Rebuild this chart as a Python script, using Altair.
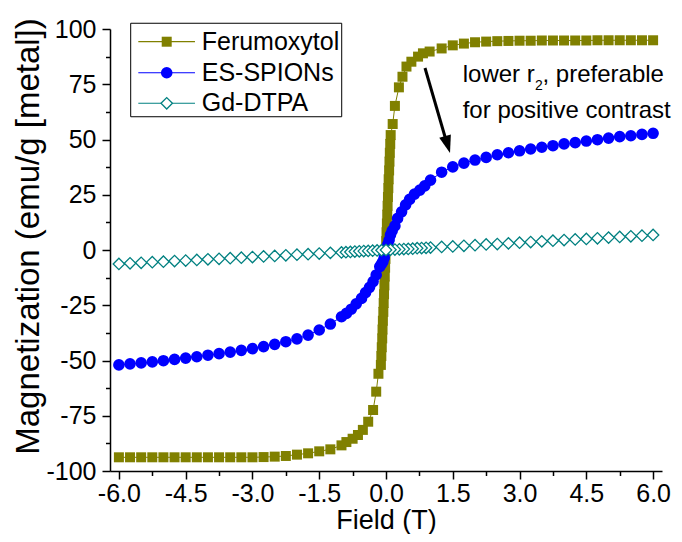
import altair as alt
import pandas as pd

FONT = "Liberation Sans"

series_names = ["Ferumoxytol", "ES-SPIONs", "Gd-DTPA"]
series_colors = ["#808000", "#0000FF", "#008080"]

# ---- Ferumoxytol (field T, magnetization emu/g) ----
fe_field = [-6.0, -5.75, -5.5, -5.25, -5.0, -4.75, -4.5, -4.25, -4.0, -3.75, -3.5, -3.25,
            -3.0, -2.75, -2.5, -2.25, -2.0, -1.75, -1.5, -1.25, -1.0, -0.89, -0.75, -0.63,
            -0.52, -0.40, -0.29, -0.22, -0.17,
            -0.115, -0.105, -0.095, -0.085, -0.078, -0.07, -0.06, -0.052, -0.044, -0.036,
            -0.028, -0.02, -0.012, -0.004, 0.004, 0.012, 0.02, 0.028, 0.036, 0.044, 0.052,
            0.06, 0.07, 0.078, 0.086, 0.095, 0.105,
            0.15, 0.20, 0.29, 0.37, 0.46, 0.57, 0.72, 0.83, 0.98, 1.25, 1.5, 1.75, 2.0,
            2.25, 2.5, 2.75, 3.0, 3.25, 3.5, 3.75, 4.0, 4.25, 4.5, 4.75, 5.0, 5.25, 5.5,
            5.75, 6.0]
fe_mag = [-93.8, -93.8, -93.8, -93.8, -93.8, -93.8, -93.8, -93.8, -93.8, -93.8, -93.8, -93.8,
          -93.8, -93.7, -93.5, -93.2, -92.6, -92.0, -91.1, -90.2, -88.4, -86.9, -85.4, -83.7,
          -81.4, -77.7, -72.4, -64.1, -56.0,
          -52, -48, -44, -40, -36, -32, -28, -24, -20, -16,
          -12, -8, -4, 0, 4, 8, 12, 16, 20, 24, 28,
          32, 36, 40, 44, 48, 52,
          57.0, 65.2, 73.6, 78.4, 83.0, 85.2, 87.5, 89.0, 89.8, 91.2, 92.6, 93.4, 94.0,
          94.3, 94.5, 94.6, 94.7, 94.7, 94.8, 94.8, 94.8, 94.8, 94.8, 94.9, 94.9, 94.9, 94.9,
          94.9, 94.9]

# ---- ES-SPIONs ----
es_field = [-6.0, -5.75, -5.5, -5.25, -5.0, -4.75, -4.5, -4.25, -4.0, -3.75, -3.5, -3.25,
            -3.0, -2.75, -2.5, -2.25, -2.0, -1.75, -1.5, -1.25, -1.0, -0.89, -0.78, -0.67,
            -0.55, -0.46, -0.37, -0.29, -0.22, -0.14, -0.10, -0.07, -0.04, 0.0, 0.04, 0.07,
            0.10, 0.14, 0.20, 0.26, 0.35, 0.44, 0.53, 0.64, 0.76, 0.87, 1.0, 1.25, 1.5, 1.75,
            2.0, 2.25, 2.5, 2.75, 3.0, 3.25, 3.5, 3.75, 4.0, 4.25, 4.5, 4.75, 5.0, 5.25, 5.5,
            5.75, 6.0]
es_mag = [-52.0, -51.5, -51.1, -50.6, -50.1, -49.5, -48.9, -48.3, -47.6, -46.9, -46.2, -45.4,
          -44.6, -43.7, -42.7, -41.5, -40.2, -38.5, -36.2, -33.5, -30.2, -28.7, -26.8, -24.4,
          -21.9, -19.3, -16.9, -14.3, -11.3, -7.5, -6.3, -5.3, -3.5, -0.5, 2.5, 4.5,
          6.8, 8.8, 10.9, 14.3, 17.3, 20.4, 22.9, 25.3, 27.1, 29.0, 31.6, 35.2, 37.6, 39.3,
          40.7, 41.9, 43.1, 44.0, 44.9, 45.7, 46.5, 47.2, 48.0, 48.6, 49.3, 49.9, 50.6, 51.3, 51.7,
          52.3, 52.8]

# ---- Gd-DTPA ----
gd_field = [-6.0, -5.75, -5.5, -5.25, -5.0, -4.75, -4.5, -4.25, -4.0, -3.75, -3.5, -3.25,
            -3.0, -2.75, -2.5, -2.25, -2.0, -1.75, -1.5, -1.25, -1.0,
            -0.9, -0.8, -0.7, -0.6, -0.5, -0.4, -0.3, -0.2, -0.1, 0.0, 0.1, 0.2, 0.3, 0.4,
            0.5, 0.6, 0.7, 0.8, 0.9,
            1.0, 1.25, 1.5, 1.75, 2.0, 2.25, 2.5, 2.75, 3.0, 3.25, 3.5, 3.75, 4.0, 4.25, 4.5,
            4.75, 5.0, 5.25, 5.5, 5.75, 6.0]
gd_mag = [-6.3, -6.0, -5.8, -5.5, -5.3, -5.0, -4.8, -4.5, -4.2, -4.0, -3.7, -3.5,
          -3.2, -2.9, -2.7, -2.4, -2.1, -1.9, -1.6, -1.3, -1.1,
          -1.0, -0.9, -0.7, -0.6, -0.5, -0.4, -0.3, -0.2, -0.1, 0.0, 0.1, 0.2, 0.3, 0.4,
          0.5, 0.6, 0.8, 0.9, 1.0,
          1.1, 1.4, 1.6, 1.9, 2.2, 2.5, 2.7, 3.0, 3.3, 3.6, 3.9, 4.2, 4.5, 4.8, 5.0,
          5.3, 5.6, 5.9, 6.2, 6.5, 6.8]

x_tick_values = [-6.0, -5.25, -4.5, -3.75, -3.0, -2.25, -1.5, -0.75, 0.0, 0.75, 1.5, 2.25,
                 3.0, 3.75, 4.5, 5.25, 6.0]
y_tick_values = [-100, -87.5, -75, -62.5, -50, -37.5, -25, -12.5, 0, 12.5, 25, 37.5, 50,
                 62.5, 75, 87.5, 100]

# legend / annotation positions (in data units)
legend_box = {"f": [-5.735], "f2": [-0.995], "m": [102.6], "m2": [60.3]}
legend_rows_m = [94.25, 80.2, 66.4]
legend_line_f = [-5.564, -4.291]
legend_sym_f = -4.926
legend_text_f = -4.140

annot_lines = ["lower r", "for positive contrast"]
annot_sub = ", preferable"

xs = alt.Scale(domain=[-6.2, 6.2], nice=False, zero=False)
ys = alt.Scale(domain=[-100, 100], nice=False, zero=False)

x_major = "abs(datum.value / 1.5 - round(datum.value / 1.5)) < 0.001"
y_major = "abs(datum.value / 25 - round(datum.value / 25)) < 0.001"

common_axis = dict(
    grid=False, domainColor="black", domainWidth=1.5, tickColor="black", tickWidth=1.5,
    labelFont=FONT, labelFontSize=25, labelColor="black", labelOverlap=False,
    labelFlush=False, titleFont=FONT, titleFontWeight="normal", titleColor="black",
)

x_axis = alt.Axis(
    values=x_tick_values, title="Field (T)",
    labelExpr=f"{x_major} ? (datum.value < 0 ? '-' : '') + format(abs(datum.value), '.1f') : ''",
    tickSize={"condition": {"test": x_major, "value": 8}, "value": 4.5},
    labelPadding=2, titleFontSize=27, titleY=57, titleBaseline="alphabetic",
    **common_axis,
)
y_axis = alt.Axis(
    values=y_tick_values, title="Magnetization (emu/g [metal])",
    labelExpr=f"{y_major} ? (datum.value < 0 ? '-' : '') + format(abs(datum.value), 'd') : ''",
    tickSize={"condition": {"test": y_major, "value": 8}, "value": 4.5},
    labelPadding=6, titleFontSize=33, titleX=-82, titleY=207, titleAngle=270,
    titleAlign="center", titleBaseline="middle",
    **common_axis,
)

X = alt.X("f:Q", scale=xs, axis=x_axis)
Y = alt.Y("m:Q", scale=ys, axis=y_axis)

layers = []

def series_layers(fields, mags, color, shape, size, white_fill, reorder=False):
    df = pd.DataFrame({"f": fields, "m": mags})
    df["o"] = range(len(df))
    line = alt.Chart(df).mark_line(color=color, strokeWidth=1).encode(
        x=X, y=Y, order="o:Q")
    pdf = df
    if reorder:
        neg = df[df["f"] < 0].sort_values("f")
        pos = df[df["f"] > 0].sort_values("f", ascending=False)
        zer = df[df["f"] == 0]
        pdf = pd.concat([neg, pos, zer])
    if white_fill:
        pts = alt.Chart(pdf).mark_point(shape=shape, filled=True, fill="white", stroke=color,
                                        strokeWidth=1.3, size=size, opacity=1)
    else:
        pts = alt.Chart(pdf).mark_point(shape=shape, filled=True, color=color, size=size,
                                        opacity=1, strokeWidth=0)
    return [line, pts.encode(x=X, y=Y)]

layers += series_layers(fe_field, fe_mag, series_colors[0], "square", 100, False)
layers += series_layers(es_field, es_mag, series_colors[1], "circle", 135, False)
layers += series_layers(gd_field, gd_mag, series_colors[2], "diamond", 130, True, reorder=True)

# legend box
box = alt.Chart(pd.DataFrame(legend_box)).mark_rect(
    fill="white", stroke="black", strokeWidth=1).encode(
    x=X, x2="f2:Q", y=Y, y2="m2:Q")
layers.append(box)

shapes = ["square", "circle", "diamond"]
sizes = [100, 135, 130]
for i, name in enumerate(series_names):
    ldf = pd.DataFrame({"f": [legend_line_f[0]], "f2": [legend_line_f[1]],
                        "m": [legend_rows_m[i]]})
    layers.append(alt.Chart(ldf).mark_rule(color=series_colors[i], strokeWidth=1.2).encode(
        x=X, x2="f2:Q", y=Y))
    sdf = pd.DataFrame({"f": [legend_sym_f], "m": [legend_rows_m[i]]})
    if i == 2:
        sm = alt.Chart(sdf).mark_point(shape=shapes[i], filled=True, fill="white",
                                       stroke=series_colors[i], strokeWidth=1.3,
                                       size=sizes[i], opacity=1)
    else:
        sm = alt.Chart(sdf).mark_point(shape=shapes[i], filled=True, color=series_colors[i],
                                       size=sizes[i], opacity=1, strokeWidth=0)
    layers.append(sm.encode(x=X, y=Y))
    tdf = pd.DataFrame({"f": [legend_text_f], "m": [legend_rows_m[i]], "t": [name]})
    layers.append(alt.Chart(tdf).mark_text(font=FONT, fontSize=25, align="left",
                                           baseline="middle", color="black").encode(
        x=X, y=Y, text="t:N"))

# annotation text
adf = pd.DataFrame({"f": [1.723, 1.723], "m": [76.0, 59.7], "t": annot_lines})
layers.append(alt.Chart(adf).mark_text(font=FONT, fontSize=24, align="left",
                                       baseline="alphabetic", color="black").encode(
    x=X, y=Y, text="t:N"))
sdf2 = pd.DataFrame({"f": [3.345], "m": [72.4], "t": ["2"]})
layers.append(alt.Chart(sdf2).mark_text(font=FONT, fontSize=14, align="left",
                                        baseline="alphabetic", color="black").encode(
    x=X, y=Y, text="t:N"))
pdf3 = pd.DataFrame({"f": [3.516], "m": [76.0], "t": [annot_sub]})
layers.append(alt.Chart(pdf3).mark_text(font=FONT, fontSize=24, align="left",
                                        baseline="alphabetic", color="black").encode(
    x=X, y=Y, text="t:N"))

# arrow
arr = pd.DataFrame({"f": [0.876], "f2": [1.337], "m": [82.35], "m2": [50.45]})
layers.append(alt.Chart(arr).mark_rule(color="black", strokeWidth=3).encode(
    x=X, x2="f2:Q", y=Y, y2="m2:Q"))
tip = pd.DataFrame({"f": [1.438], "m": [43.9]})
layers.append(alt.Chart(tip).mark_point(shape="M0,0L-0.55,-1.6L0.55,-1.6Z", filled=True,
                                        color="black", size=484, angle=343.6, opacity=1,
                                        strokeWidth=0).encode(x=X, y=Y))

chart = alt.layer(*layers).properties(
    width=552, height=442,
    autosize=alt.AutoSizeParams(type="none"),
    padding={"left": 102, "top": 21, "right": 12, "bottom": 63},
    background="white",
).configure_view(stroke=None)

chart.save("out.html", embed_options={"renderer": "svg", "actions": False})
